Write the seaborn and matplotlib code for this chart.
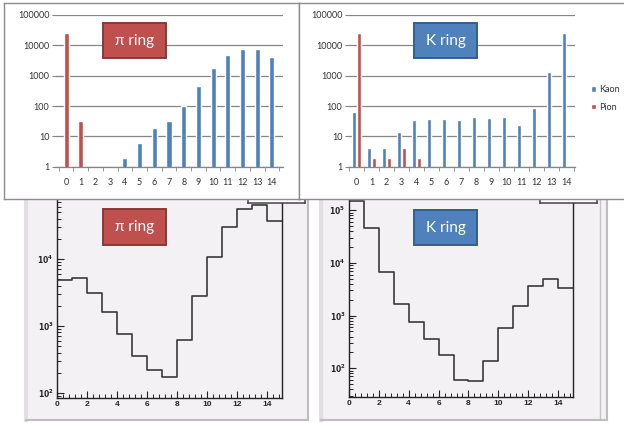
import numpy as np
import pandas as pd
import matplotlib
matplotlib.use('Agg')
from matplotlib import pyplot as plt
from matplotlib.patches import Rectangle
from matplotlib.ticker import MultipleLocator, LogLocator, NullLocator, NullFormatter
import seaborn as sns

# ---- data ----
rings = [str(i) for i in range(15)]

# pi ring, Excel bars (one bar per ring, coloured by particle)
pi_bar_cat = ['0', '1', '4', '5', '6', '7', '8', '9', '10', '11', '12', '13', '14']
pi_bar_val = [26000, 32, 2, 6, 19, 32, 102, 455, 1750, 4700, 7700, 7700, 4000]
pi_bar_kind = ['Pion', 'Pion'] + ['Kaon'] * 11

# K ring, Excel bars (kaon and pion side by side)
k_kaon_val = [65, 4, 4, 14, 34, 36, 36, 34, 42, 39, 43, 24, 86, 1320, 26000]
k_pion_cat = ['0', '1', '2', '3', '4']
k_pion_val = [26000, 2, 2, 4, 2]

bar_yticks = [1, 10, 100, 1000, 10000, 100000]
bar_ylabels = ['1', '10', '100', '1000', '10000', '100000']

# ROOT histograms, unit bins 0..15
hist_bins = list(range(16))
hist_x = list(range(15))
pi_hist = [4900, 5200, 3080, 1600, 760, 352, 218, 175, 611, 2800, 10700, 29700, 55200, 64600, 37300]
k_hist = [148000, 46100, 6750, 1640, 746, 360, 181, 60, 57, 136, 574, 1550, 3570, 4960, 3310]
hist_xticks = [0, 2, 4, 6, 8, 10, 12, 14]
pi_hist_yticks = [1e2, 1e3, 1e4]
pi_hist_ylabels = [r'$\mathbf{10^{2}}$', r'$\mathbf{10^{3}}$', r'$\mathbf{10^{4}}$']
k_hist_yticks = [1e2, 1e3, 1e4, 1e5]
k_hist_ylabels = [r'$\mathbf{10^{2}}$', r'$\mathbf{10^{3}}$', r'$\mathbf{10^{4}}$', r'$\mathbf{10^{5}}$']

sns.set_style('ticks')
plt.rcParams['font.family'] = ['Lato', 'DejaVu Sans']

BLUE = '#4f81bd'
RED = '#c0504d'
GRID = '#868686'
CANVAS = '#f4f1f4'
colors = {'Kaon': BLUE, 'Pion': RED}

W, H = 624, 423
fig = plt.figure(figsize=(W / 100, H / 100), dpi=100)


def px(x0, y0, x1, y1):
    return [x0 / W, 1 - y1 / H, (x1 - x0) / W, (y1 - y0) / H]


def tag(ax, x0, y0, x1, y1, text, fc, ec):
    ax.add_patch(Rectangle((x0 / W, 1 - y1 / H), (x1 - x0) / W, (y1 - y0) / H,
                           transform=fig.transFigure, fc=fc, ec=ec, lw=1.4,
                           clip_on=False, zorder=5))
    ax.text((x0 + x1) / 2 / W, 1 - (y0 + y1) / 2 / H, text, transform=fig.transFigure,
            ha='center', va='center', color='white', fontsize=11, zorder=6)


def blank(rect, z, face):
    a = fig.add_axes(px(*rect))
    a.set_zorder(z)
    a.set_facecolor(face)
    a.set_xticks([])
    a.set_yticks([])
    return a


# ---- ROOT canvases (bottom) ----
for rect in [(26, 199, 308, 420), (321, 199, 607, 420)]:
    c = blank(rect, 0, CANVAS)
    c.spines['top'].set_visible(False)
    c.spines['left'].set_color('#e2dfe2')
    c.spines['left'].set_linewidth(3)
    for s in ('right', 'bottom'):
        c.spines[s].set_color('#bdbdbd')
        c.spines[s].set_linewidth(1.5)
    if rect[0] > 300:
        c.axvline((600 - 321) / (607 - 321), color='#c4c4c4', lw=1)


def root_hist(rect, values, ylim, yticks, ylabels):
    ax = fig.add_axes(px(*rect))
    ax.set_zorder(1)
    ax.patch.set_alpha(0)
    sns.histplot(x=hist_x, weights=values, bins=hist_bins, element='step', fill=False,
                 color='#3a3a3a', linewidth=1.2, ax=ax)
    ax.set_yscale('log')
    ax.set_xlim(0, 15)
    ax.set_ylim(*ylim)
    ax.set(xlabel='', ylabel='')
    ax.set_xticks(hist_xticks, [str(t) for t in hist_xticks])
    ax.xaxis.set_minor_locator(MultipleLocator(0.4))
    ax.set_yticks(yticks, ylabels)
    ax.yaxis.set_minor_locator(LogLocator(base=10, subs=np.arange(2, 10)))
    ax.yaxis.set_minor_formatter(NullFormatter())
    ax.spines['top'].set_visible(False)
    for s in ('left', 'bottom', 'right'):
        ax.spines[s].set_color('#222222')
        ax.spines[s].set_linewidth(1)
    ax.tick_params(which='both', direction='in', color='#222222', bottom=True, left=True)
    ax.tick_params(which='major', length=5, width=0.8, labelsize=5.5, pad=2.5)
    ax.tick_params(which='minor', length=3, width=0.7)
    ax.tick_params(axis='x', which='major', labelsize=6)
    for lab in ax.get_xticklabels():
        lab.set_fontweight('bold')
        lab.set_family(['Liberation Sans', 'DejaVu Sans'])
    return ax


ax3 = root_hist((57, 199, 282, 398), pi_hist, (84, 78400), pi_hist_yticks, pi_hist_ylabels)
tag(ax3, 103, 209, 166, 245, 'π ring', RED, '#8c3836')
ax4 = root_hist((349, 199, 573, 397), k_hist, (28.5, 163000), k_hist_yticks, k_hist_ylabels)
tag(ax4, 414, 210, 477, 245, 'K ring', BLUE, '#385d8a')

# ROOT stats boxes peeking out under the top panels
for rect in [(248, 190, 305, 203), (540, 190, 597, 203)]:
    s = blank(rect, 2, 'white')
    for sp in s.spines.values():
        sp.set_color('#444444')
        sp.set_linewidth(1.1)

# ---- Excel panels (top) ----
for rect in [(4, 3, 299, 199), (299, 3, 640, 199)]:
    p = blank(rect, 3, 'white')
    for sp in p.spines.values():
        sp.set_color('#8c8c8c')
        sp.set_linewidth(1)


def excel_style(ax, xlim):
    ax.set_yscale('log')
    ax.set_ylim(1, 1e5)
    ax.set_xlim(*xlim)
    ax.set(xlabel='', ylabel='')
    ax.set_yticks(bar_yticks, bar_ylabels)
    ax.yaxis.set_minor_locator(NullLocator())
    ax.set_xticks(range(len(rings)), rings)
    ax.set_xticks(np.arange(-0.5, len(rings)), minor=True)
    ax.yaxis.grid(True, color=GRID, lw=0.9)
    ax.set_axisbelow(True)
    for s in ('left', 'top', 'right'):
        ax.spines[s].set_visible(False)
    ax.spines['bottom'].set_color(GRID)
    ax.spines['bottom'].set_linewidth(0.9)
    ax.tick_params(axis='x', which='major', length=0, pad=8, labelsize=6.5, labelcolor='#333333')
    ax.tick_params(axis='x', which='minor', length=3, color=GRID, direction='out', bottom=True)
    ax.tick_params(axis='y', which='major', length=2, color=GRID, pad=2, labelsize=6.5,
                   labelcolor='#333333', left=True)


ax1 = fig.add_axes(px(55, 15, 283, 166.7))
ax1.set_zorder(4)
ax1.patch.set_alpha(0)
sns.barplot(x=pi_bar_cat, y=pi_bar_val, hue=pi_bar_kind, order=rings, hue_order=['Kaon', 'Pion'],
            palette=colors, dodge=False, width=0.34, saturation=1, errorbar=None,
            legend=False, ax=ax1)
excel_style(ax1, (-0.75, 14.75))
tag(ax1, 103, 23, 166, 58, 'π ring', RED, '#8c3836')

df_k = pd.DataFrame({'ring': rings + k_pion_cat,
                     'hits': k_kaon_val + k_pion_val,
                     'particle': ['Kaon'] * len(rings) + ['Pion'] * len(k_pion_cat)})
ax2 = fig.add_axes(px(348, 15, 575, 166.7))
ax2.set_zorder(4)
ax2.patch.set_alpha(0)
sns.barplot(data=df_k, x='ring', y='hits', hue='particle', order=rings, hue_order=['Kaon', 'Pion'],
            palette=colors, width=0.65, gap=0.25, saturation=1, errorbar=None, ax=ax2)
excel_style(ax2, (-0.58, 14.58))
tag(ax2, 414, 23, 477, 58, 'K ring', BLUE, '#385d8a')
handles, labels = ax2.get_legend_handles_labels()
ax2.legend(handles, labels, loc='upper left', bbox_to_anchor=(591 / W, 1 - 85 / H),
           bbox_transform=fig.transFigure, frameon=False, fontsize=6.5, handlelength=0.6,
           handleheight=0.6, handletextpad=0.3, labelspacing=0.95, borderpad=0, borderaxespad=0,
           labelcolor='#333333')

fig.savefig('out.png', dpi=100)
